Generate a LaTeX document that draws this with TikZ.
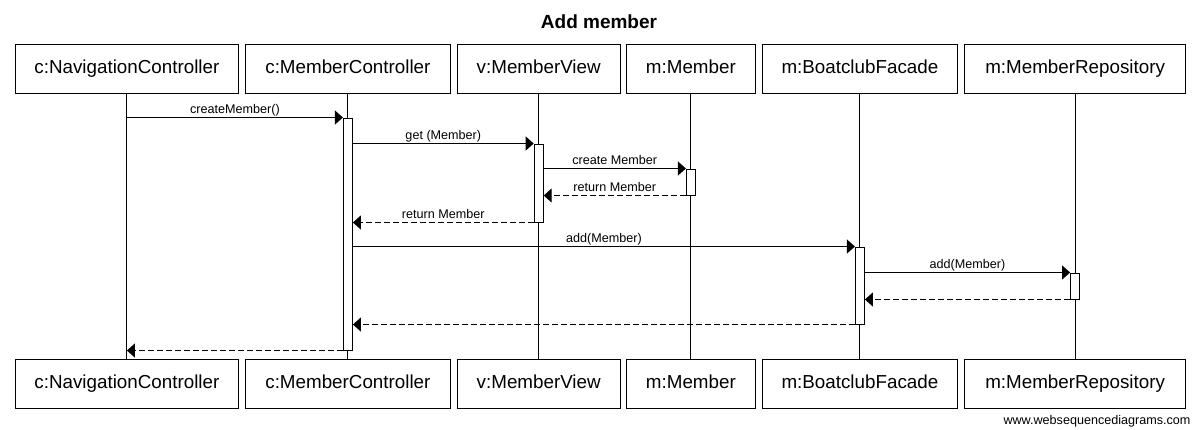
\documentclass[tikz,border=0pt]{standalone}
\usepackage{fontspec}
\setmainfont{Liberation Sans}
\usetikzlibrary{arrows.meta}
\begin{document}
\begin{tikzpicture}[x=1pt,y=-1pt,
  line width=1pt,
  part/.style={draw, fill=white, minimum height=49pt, inner sep=0pt, text height=13.5pt, text depth=3.8pt, font=\fontsize{18.8}{22}\selectfont},
  act/.style={draw, fill=white, minimum width=9pt, inner sep=0pt},
  msg/.style={-{Triangle[length=8pt,width=14pt]}},
  ret/.style={-{Triangle[length=8pt,width=14pt]}, dash pattern=on 6pt off 3pt},
  lbl/.style={midway, above, inner sep=1pt, text height=9pt, text depth=2.6pt, font=\fontsize{12.6}{14}\selectfont},
  life/.style={line width=1pt}]
\useasboundingbox (0,0) rectangle (1196,429);
\fill[white] (0,0) rectangle (1196,429);
% title
\node[font=\bfseries\fontsize{19}{22}\selectfont] (title) at (599,22) {Add member};
% participants (top)
\node[part, minimum width=223pt] (tNC) at (126.9,68.5) {c:NavigationController};
\node[part, minimum width=205pt] (tMC) at (347.9,68.5) {c:MemberController};
\node[part, minimum width=163pt] (tMV) at (538.7,68.5) {v:MemberView};
\node[part, minimum width=129.4pt] (tM) at (690.9,68.5) {m:Member};
\node[part, minimum width=194.7pt] (tBF) at (859.9,68.5) {m:BoatclubFacade};
\node[part, minimum width=220.4pt] (tMR) at (1075.1,68.5) {m:MemberRepository};
% participants (bottom)
\node[part, minimum width=223pt] (bNC) at (126.9,383.5) {c:NavigationController};
\node[part, minimum width=205pt] (bMC) at (347.9,383.5) {c:MemberController};
\node[part, minimum width=163pt] (bMV) at (538.7,383.5) {v:MemberView};
\node[part, minimum width=129.4pt] (bM) at (690.9,383.5) {m:Member};
\node[part, minimum width=194.7pt] (bBF) at (859.9,383.5) {m:BoatclubFacade};
\node[part, minimum width=220.4pt] (bMR) at (1075.1,383.5) {m:MemberRepository};
% lifelines
\foreach \p in {NC,MC,MV,M,BF,MR}
  \draw[life] (t\p.south) -- (b\p.north);
% activations
\node[act, minimum height=232pt] (aMC) at (347.9,234) {};
\node[act, minimum height=78pt] (aMV) at (538.7,183) {};
\node[act, minimum height=26pt] (aM) at (690.9,182) {};
\node[act, minimum height=77pt] (aBF) at (859.9,285.5) {};
\node[act, minimum height=26pt] (aMR) at (1075.1,286) {};
% messages
\draw[msg] (tNC.south |- aMC.north) -- node[lbl] {createMember()} (aMC.north west);
\draw[msg] (aMC.east |- aMV.north) -- node[lbl] {get (Member)} (aMV.north west);
\draw[msg] (aMV.east |- aM.north) -- node[lbl] {create Member} (aM.north west);
\draw[ret] (aM.south west) -- node[lbl] {return Member} (aMV.east |- aM.south);
\draw[ret] (aMV.south west) -- node[lbl] {return Member} (aMC.east |- aMV.south);
\draw[msg] (aMC.east |- aBF.north) -- node[lbl] {add(Member)} (aBF.north west);
\draw[msg] (aBF.east |- aMR.north) -- node[lbl] {add(Member)} (aMR.north west);
\draw[ret] (aMR.south west) -- (aBF.east |- aMR.south);
\draw[ret] (aBF.south west) -- (aMC.east |- aBF.south);
\draw[ret] (aMC.south west) -- (tNC.south |- aMC.south);
% watermark
\node[anchor=east, inner sep=0pt, font=\fontsize{12.6}{14}\selectfont] (wm) at (1191,421) {www.websequencediagrams.com};
\end{tikzpicture}
\end{document}
